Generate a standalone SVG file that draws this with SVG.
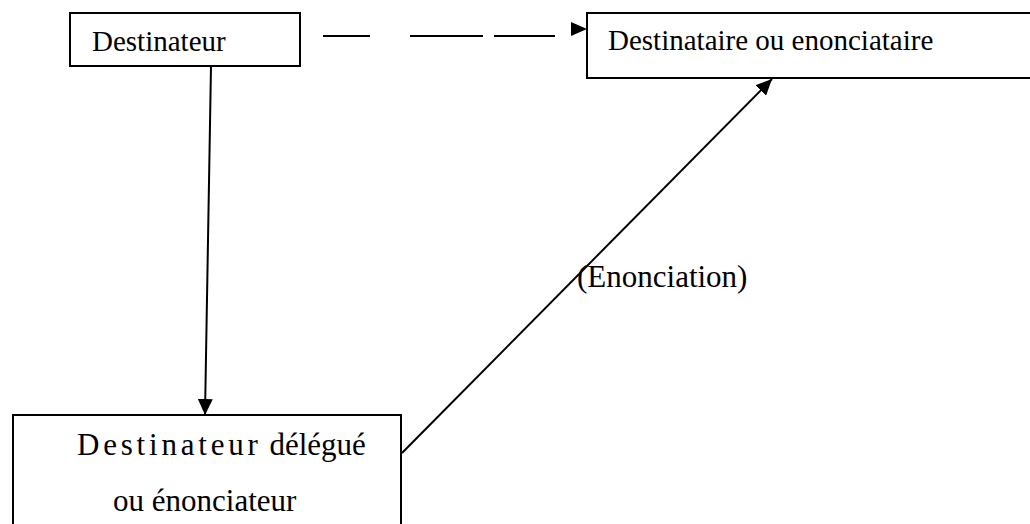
<svg xmlns="http://www.w3.org/2000/svg" width="1030" height="524" viewBox="0 0 1030 524">
<style>
.box{fill:#fff;stroke:#000;stroke-width:2}
.t{font-family:"Liberation Serif","Times New Roman",serif;font-size:29px;fill:#000}
.c{stroke:#000;stroke-width:2;fill:none}
</style>
<defs>
<marker id="ah" markerUnits="userSpaceOnUse" markerWidth="16" markerHeight="15" refX="16" refY="7.5" orient="auto">
<path d="M0 0 L16 7.5 L0 15 Z" fill="#000"/>
</marker>
</defs>
<rect width="1030" height="524" fill="#fff"/>
<g id="node-destinateur">
<rect class="box" x="70" y="13" width="230" height="53"/>
<text class="t" x="92" y="51">Destinateur</text>
</g>
<g id="node-destinataire">
<rect class="box" x="587" y="13" width="450" height="65"/>
<text class="t" x="608" y="50">Destinataire ou enonciataire</text>
</g>
<g id="node-delegue">
<rect class="box" x="13" y="415" width="388" height="130"/>
<text class="t" x="77" y="455" style="font-size:31px"><tspan letter-spacing="3.8">Destinateur</tspan> délégué</text>
<text class="t" x="113" y="511" style="font-size:31px">ou énonciateur</text>
</g>
<g id="connectors">
<path class="c" d="M323 36 H370 M410 36 H483 M494 36 H555"/>
<path d="M571 22 L587 29 L571 36 Z" fill="#000"/>
<line class="c" x1="211" y1="66" x2="205" y2="415" marker-end="url(#ah)"/>
<line class="c" x1="402" y1="453" x2="772" y2="79" marker-end="url(#ah)"/>
<text class="t" x="577" y="287" style="font-size:31px">(Enonciation)</text>
</g>
</svg>
